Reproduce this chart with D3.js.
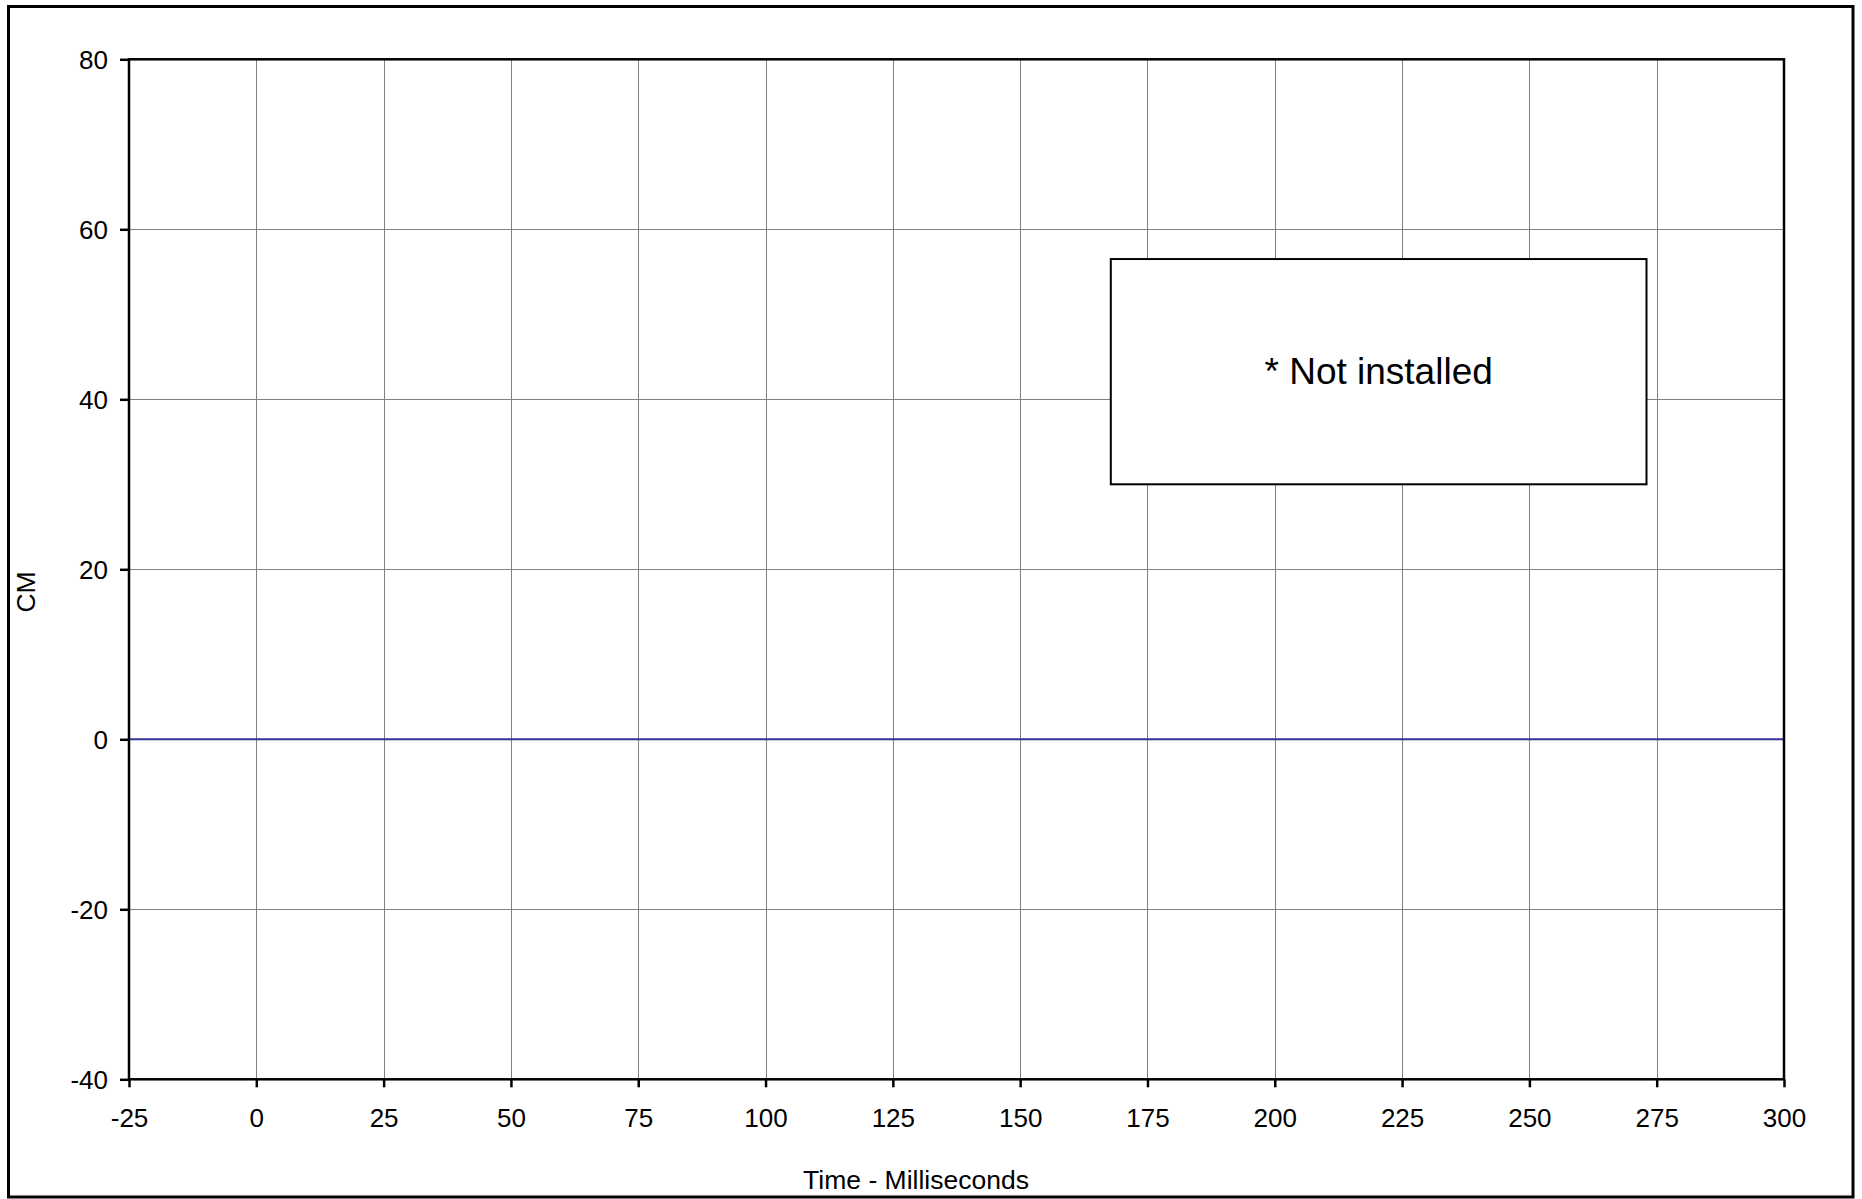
<!DOCTYPE html>
<html>
<head>
<meta charset="utf-8">
<script src="https://cdn.jsdelivr.net/npm/d3@7"></script>
<style>
  html, body { margin: 0; padding: 0; background: #fff; }
  svg { display: block; font-family: Arial, "Liberation Sans", sans-serif; }
</style>
</head>
<body>
<svg id="chart" width="1862" height="1199"></svg>
<script>
// ---- data ----
const xTicks = [-25, 0, 25, 50, 75, 100, 125, 150, 175, 200, 225, 250, 275, 300];
const yTicks = [-40, -20, 0, 20, 40, 60, 80];
const seriesTime = [-25, 300];
const seriesCM = [0, 0];
const xLabel = "Time - Milliseconds";
const yLabel = "CM";
const noteText = "* Not installed";
const noteX = [167.8, 273];   // box extent in ms
const noteY = [56.5, 30];     // box extent in CM

// ---- layout ----
const svg = d3.select("#chart");
const plot = { left: 129, right: 1784, top: 59.3, bottom: 1079.3 };
const FONT = 26;

const x = d3.scaleLinear().domain([d3.min(xTicks), d3.max(xTicks)]).range([plot.left, plot.right]);
const y = d3.scaleLinear().domain([d3.min(yTicks), d3.max(yTicks)]).range([plot.bottom, plot.top]);

// outer border
svg.append("rect")
  .attr("x", 8.5).attr("y", 6.5)
  .attr("width", 1853 - 8.5).attr("height", 1197 - 6.5)
  .attr("fill", "#fff").attr("stroke", "#000").attr("stroke-width", 3);

// gridlines
const grid = svg.append("g");
grid.selectAll(".vg").data(xTicks.slice(1, -1)).join("line")
  .attr("x1", d => Math.round(x(d)) + 0.5).attr("x2", d => Math.round(x(d)) + 0.5)
  .attr("y1", plot.top).attr("y2", plot.bottom)
  .attr("stroke", "#808080").attr("stroke-width", 1);
grid.selectAll(".hg").data(yTicks.slice(1, -1)).join("line")
  .attr("x1", plot.left).attr("x2", plot.right)
  .attr("y1", d => Math.round(y(d)) + 0.5).attr("y2", d => Math.round(y(d)) + 0.5)
  .attr("stroke", "#808080").attr("stroke-width", 1);

// series line
const line = d3.line().x((d, i) => x(seriesTime[i])).y(d => y(d));
svg.append("path")
  .datum(seriesCM)
  .attr("d", line)
  .attr("fill", "none")
  .attr("stroke", "#333399")
  .attr("stroke-width", 2);

// plot frame
svg.append("rect")
  .attr("x", plot.left).attr("y", plot.top)
  .attr("width", plot.right - plot.left).attr("height", plot.bottom - plot.top)
  .attr("fill", "none").attr("stroke", "#000").attr("stroke-width", 2.5);

// axes
const fmt = d => String(d);
const xAxis = d3.axisBottom(x).tickValues(xTicks).tickSize(8).tickPadding(21).tickFormat(fmt);
const yAxis = d3.axisLeft(y).tickValues(yTicks).tickSize(9).tickPadding(12).tickFormat(fmt);

const gx = svg.append("g").attr("transform", `translate(0,${plot.bottom})`).call(xAxis);
const gy = svg.append("g").attr("transform", `translate(${plot.left},0)`).call(yAxis);
[gx, gy].forEach(g => {
  g.select(".domain").remove();
  g.selectAll(".tick line").attr("stroke", "#000").attr("stroke-width", 2.5);
  g.selectAll(".tick text").attr("fill", "#000").attr("font-size", FONT)
    .attr("font-family", "Arial, 'Liberation Sans', sans-serif");
});
gy.selectAll(".tick text").attr("dy", "0.35em");
gx.selectAll(".tick text").attr("dy", "0.71em");

// axis titles
svg.append("text")
  .attr("x", 916).attr("y", 1189)
  .attr("text-anchor", "middle")
  .attr("font-size", 26.5)
  .attr("fill", "#000")
  .text(xLabel);

svg.append("text")
  .attr("transform", `translate(35,592) rotate(-90)`)
  .attr("text-anchor", "middle")
  .attr("font-size", 26.5)
  .attr("fill", "#000")
  .text(yLabel);

// annotation box
const nx0 = x(noteX[0]), nx1 = x(noteX[1]);
const ny0 = y(noteY[0]), ny1 = y(noteY[1]);
svg.append("rect")
  .attr("x", nx0).attr("y", ny0)
  .attr("width", nx1 - nx0).attr("height", ny1 - ny0)
  .attr("fill", "#fff").attr("stroke", "#000").attr("stroke-width", 2);
svg.append("text")
  .attr("x", (nx0 + nx1) / 2).attr("y", 383.5)
  .attr("text-anchor", "middle")
  .attr("font-size", 37)
  .attr("fill", "#000")
  .text(noteText);
</script>
</body>
</html>
